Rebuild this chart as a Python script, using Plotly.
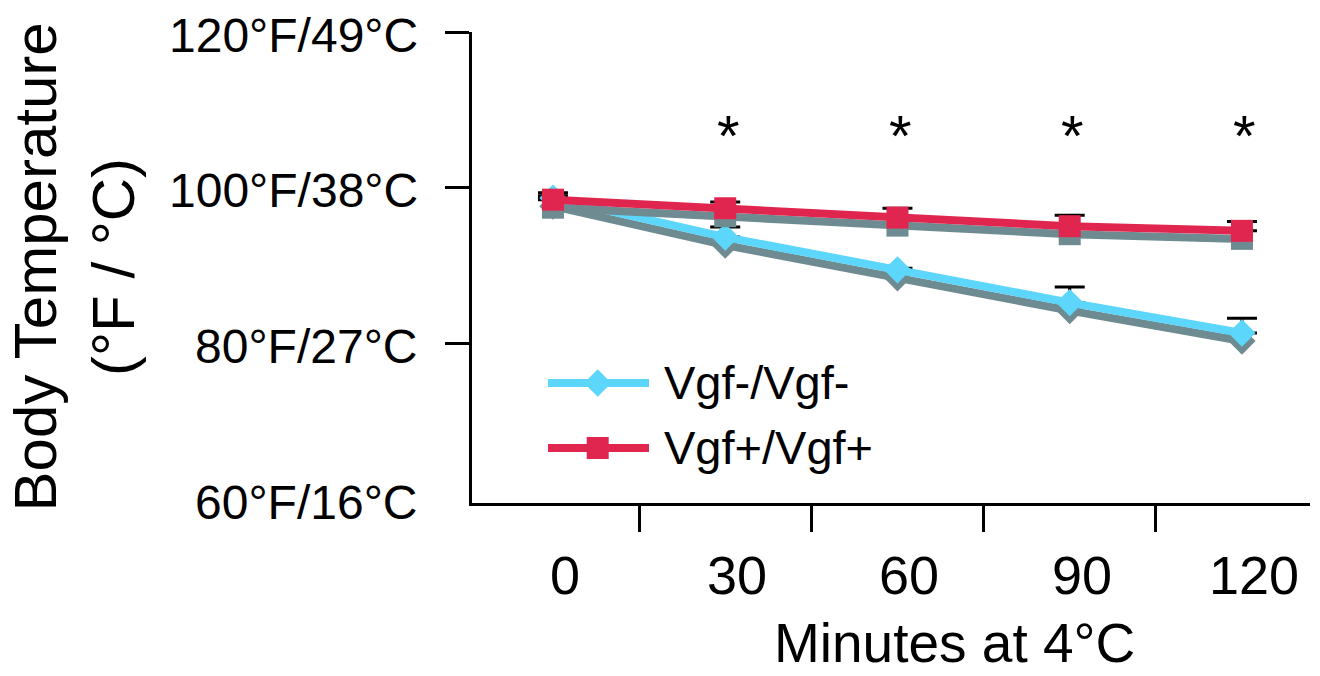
import plotly.graph_objects as go

# ---------------- data ----------------
minutes = ["0", "30", "60", "90", "120"]
series_names = ["Vgf-/Vgf-", "Vgf+/Vgf+"]
vgf_ko = [98.7, 93.7, 89.5, 85.3, 81.4]          # Vgf-/Vgf-
vgf_ko_err = [0.3, 1.3, 0.2, 2.0, 1.9]
vgf_wt = [98.5, 97.4, 96.2, 95.1, 94.5]          # Vgf+/Vgf+
vgf_wt_err = [0.9, 0.8, 1.2, 1.4, 1.2]
significance = ["", "*", "*", "*", "*"]
y_tickvals = [60, 80, 100, 120]
y_ticktext = ["60°F/16°C", "80°F/27°C", "100°F/38°C", "120°F/49°C"]

# ---------------- style ----------------
CYAN = "#5CD6FB"
RED = "#E0264F"
SHADOW = "#6E8B91"
FONT = "Liberation Sans"
Y_RANGE = [59.6, 120]
X_RANGE = [-0.47, 4.395]
SHADOW_SHIFT = 1.03      # vertical drop-shadow offset (~8 px)
STAR_LEVEL = 106.7

x = list(range(len(minutes)))
zeros = [0] * len(minutes)

fig = go.Figure()

# error bars (bottom layer)
for vals, errs in [(vgf_ko, vgf_ko_err), (vgf_wt, vgf_wt_err)]:
    fig.add_trace(go.Scatter(
        x=x, y=vals, mode="markers", marker=dict(size=2, opacity=0),
        error_y=dict(type="data", array=errs, arrayminus=zeros, symmetric=False,
                     color="black", thickness=3, width=15),
        showlegend=False, hoverinfo="skip", xaxis="x", yaxis="y"))

series = [
    (vgf_ko, CYAN, "diamond", 21, "y2", "y3"),
    (vgf_wt, RED, "square", 22, "y4", "y5"),
]
for vals, col, sym, size, shadow_ax, main_ax in series:
    fig.add_trace(go.Scatter(
        x=x, y=vals, mode="lines+markers",
        line=dict(color=SHADOW, width=8),
        marker=dict(symbol=sym, size=size, color=SHADOW, line=dict(width=0)),
        showlegend=False, hoverinfo="skip", xaxis="x", yaxis=shadow_ax))
    fig.add_trace(go.Scatter(
        x=x, y=vals, mode="lines+markers",
        line=dict(color=col, width=8),
        marker=dict(symbol=sym, size=size, color=col, line=dict(width=0)),
        showlegend=False, xaxis="x", yaxis=main_ax))

# manual legend drawn on a paper-like axis pair
LEG_X0, LEG_X1, LEG_XM, LEG_TX = 0.0907, 0.2112, 0.150, 0.2267
LEG_Y = [0.2548, 0.1168]
for (vals, col, sym, size, _, _), name, ly in zip(series, series_names, LEG_Y):
    fig.add_trace(go.Scatter(
        x=[LEG_X0, LEG_X1], y=[ly, ly], mode="lines",
        line=dict(color=col, width=8), showlegend=False, hoverinfo="skip",
        xaxis="x2", yaxis="y6"))
    fig.add_trace(go.Scatter(
        x=[LEG_XM], y=[ly], mode="markers",
        marker=dict(symbol=sym, size=size, color=col, line=dict(width=0)),
        showlegend=False, hoverinfo="skip", xaxis="x2", yaxis="y6"))
    fig.add_annotation(x=LEG_TX, y=ly, xref="x2", yref="y6", text=name,
                       showarrow=False, xanchor="left", yanchor="middle",
                       font=dict(family=FONT, size=47, color="black"))

annotations = []
# y tick labels
for v, t in zip(y_tickvals, y_ticktext):
    annotations.append(dict(x=0, xref="paper", y=v, yref="y", text=t, showarrow=False,
                            xanchor="right", yanchor="middle", xshift=-52, yshift=-3,
                            font=dict(family=FONT, size=48, color="black")))
# x tick labels
for i, m in enumerate(minutes):
    annotations.append(dict(x=i, xref="x", y=0, yref="paper", text=m, showarrow=False,
                            xanchor="center", yanchor="middle", xshift=12, yshift=-72,
                            font=dict(family=FONT, size=54, color="black")))
# significance stars
for i, s in enumerate(significance):
    if s:
        annotations.append(dict(x=i, xref="x", y=STAR_LEVEL, yref="y", text=s,
                                showarrow=False, xanchor="center", yanchor="middle",
                                xshift=3, font=dict(family=FONT, size=58, color="black")))
# axis titles
annotations.append(dict(x=0.576, xref="paper", y=0, yref="paper", text="Minutes at 4°C",
                        showarrow=False, xanchor="center", yanchor="bottom", yshift=-173,
                        font=dict(family=FONT, size=55, color="black")))
annotations.append(dict(x=0, xref="paper", y=0.5, yref="paper",
                        text="Body Temperature<br>(°F / °C)", textangle=-90,
                        showarrow=False, xanchor="center", yanchor="middle", xshift=-398,
                        font=dict(family=FONT, size=60, color="black")))
for a in annotations:
    fig.add_annotation(**a)

hidden = dict(visible=False, showgrid=False, zeroline=False)
shift_range = [Y_RANGE[0] + SHADOW_SHIFT, Y_RANGE[1] + SHADOW_SHIFT]

fig.update_layout(
    width=1320, height=676,
    margin=dict(l=472, r=10, t=32, b=173),
    paper_bgcolor="white", plot_bgcolor="white",
    font=dict(family=FONT, color="black"),
    showlegend=False,
    xaxis=dict(range=X_RANGE, showgrid=False, zeroline=False, showline=True,
               linecolor="black", linewidth=3,
               tickmode="array", tickvals=[i + 0.5 for i in x[:-1]],
               ticks="outside", ticklen=26, tickwidth=3, tickcolor="black",
               showticklabels=False),
    yaxis=dict(range=Y_RANGE, showgrid=False, zeroline=False, showline=True,
               linecolor="black", linewidth=3,
               tickmode="array", tickvals=y_tickvals[1:],
               ticks="outside", ticklen=24, tickwidth=3, tickcolor="black",
               showticklabels=False),
    yaxis2=dict(range=shift_range, overlaying="y", **hidden),
    yaxis3=dict(range=Y_RANGE, overlaying="y", **hidden),
    yaxis4=dict(range=shift_range, overlaying="y", **hidden),
    yaxis5=dict(range=Y_RANGE, overlaying="y", **hidden),
    xaxis2=dict(range=[0, 1], overlaying="x", anchor="y6", **hidden),
    yaxis6=dict(range=[0, 1], overlaying="y", anchor="x2", **hidden),
)

fig.write_html("out.html", config={"displayModeBar": False},
               post_script="document.body.style.margin='0px';document.body.style.overflow='hidden';")
